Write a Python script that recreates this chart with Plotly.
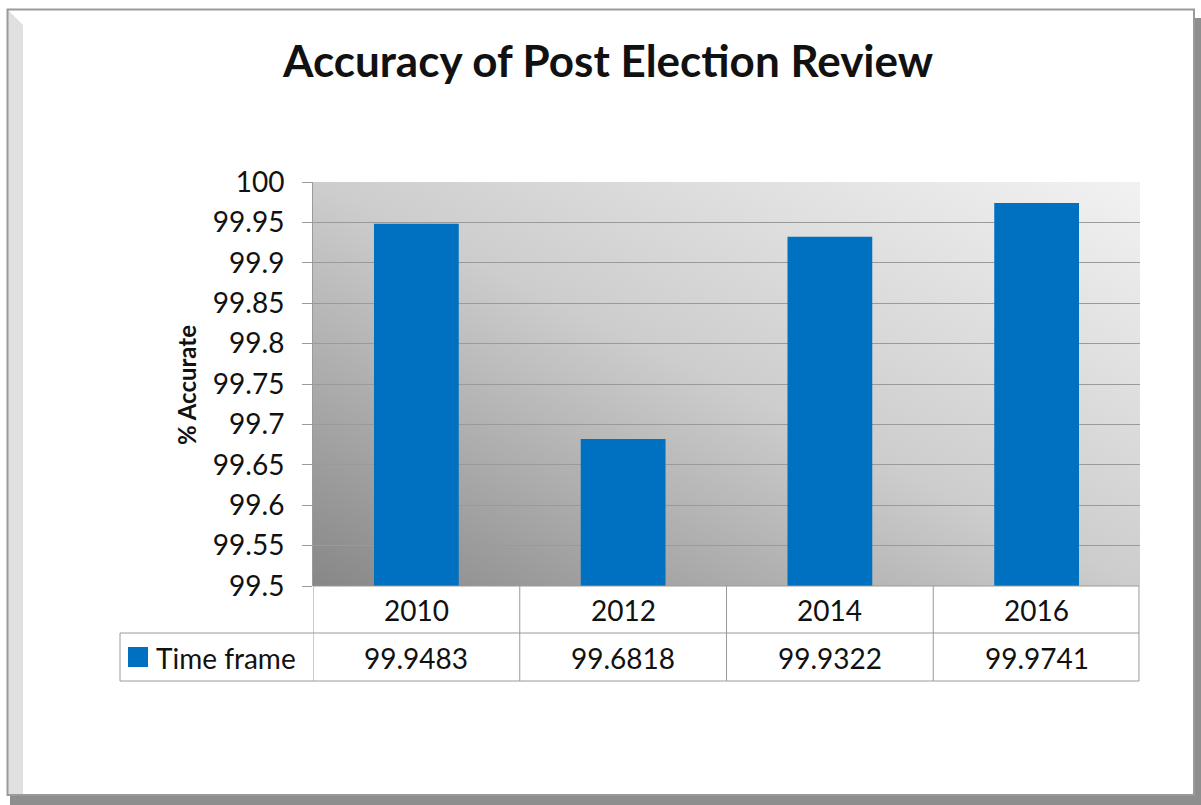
import base64
import plotly.graph_objects as go

# ---- data ----
years = ["2010", "2012", "2014", "2016"]
accuracy = [99.9483, 99.6818, 99.9322, 99.9741]
value_labels = ["99.9483", "99.6818", "99.9322", "99.9741"]
series_name = "Time frame"
y_ticks = [99.5, 99.55, 99.6, 99.65, 99.7, 99.75, 99.8, 99.85, 99.9, 99.95, 100]
y_tick_labels = ["99.5", "99.55", "99.6", "99.65", "99.7", "99.75", "99.8", "99.85", "99.9", "99.95", "100"]

# ---- layout geometry (pixels) ----
FW, FH = 1201, 805
L, R, T, B = 313, 1140, 182, 586
W, H = R - L, B - T


def px(x):
    return (x - L) / W


def py(y):
    return (B - y) / H


FONT = "Lato"
BLUE = "#0070C0"
LINE = "#9a9a9a"
TXT = 28

fig = go.Figure()
fig.add_trace(go.Bar(x=years, y=accuracy, marker=dict(color=BLUE, line=dict(width=0)),
                     name=series_name, showlegend=False, hoverinfo="x+y"))

# gradient background for plot area (svg image)
svg = ('<svg xmlns="http://www.w3.org/2000/svg" width="%d" height="%d" viewBox="0 0 %d %d" preserveAspectRatio="none">'
       '<defs><linearGradient id="g" x1="0" y1="1" x2="1" y2="0">'
       '<stop offset="0" stop-color="#878787"/>'
       '<stop offset="0.5" stop-color="#cdcdcd"/>'
       '<stop offset="1" stop-color="#f2f2f2"/>'
       '</linearGradient></defs>'
       '<rect x="0" y="0" width="%d" height="%d" fill="url(#g)"/></svg>') % (W, H, W, H, W, H)
src = "data:image/svg+xml;base64," + base64.b64encode(svg.encode()).decode()

shapes = []
# outer frame with bevel
shapes.append(dict(type="rect", xref="paper", yref="paper", x0=px(10), x1=px(1201), y0=py(795), y1=py(805),
                   fillcolor="#8e8e8e", line=dict(width=0), layer="below"))
shapes.append(dict(type="rect", xref="paper", yref="paper", x0=px(1194), x1=px(1201), y0=py(805), y1=py(18),
                   fillcolor="#8e8e8e", line=dict(width=0), layer="below"))
shapes.append(dict(type="path", xref="paper", yref="paper",
                   path="M %f %f L %f %f L %f %f L %f %f Z" % (px(8), py(10), px(23), py(25), px(23), py(795), px(8), py(795)),
                   fillcolor="#e0e0e0", line=dict(width=0), layer="below"))
shapes.append(dict(type="rect", xref="paper", yref="paper", x0=px(7.5), x1=px(1194), y0=py(795), y1=py(9.5),
                   fillcolor="rgba(0,0,0,0)", line=dict(color="#9a9a9a", width=2), layer="below"))

# data table lines
n = len(years)
row1_top, row2_top, row2_bot = 586, 633, 681
shapes.append(dict(type="line", xref="paper", yref="paper", x0=px(120), x1=1 - 1 / W, y0=py(row2_top), y1=py(row2_top),
                   line=dict(color=LINE, width=1)))
shapes.append(dict(type="line", xref="paper", yref="paper", x0=px(120), x1=1 - 1 / W, y0=py(row2_bot), y1=py(row2_bot),
                   line=dict(color=LINE, width=1)))
shapes.append(dict(type="line", xref="paper", yref="paper", x0=0, x1=1 - 1 / W, y0=0, y1=0,
                   line=dict(color=LINE, width=1)))
shapes.append(dict(type="line", xref="paper", yref="paper", x0=px(120), x1=px(120), y0=py(row2_top), y1=py(row2_bot),
                   line=dict(color=LINE, width=1)))
for i in range(n + 1):
    xv = i - 0.5 - (0.005 if i == n else 0)
    shapes.append(dict(type="line", xref="x", yref="paper", x0=xv, x1=xv,
                       y0=0, y1=py(row2_bot), line=dict(color=LINE, width=1)))
# legend key
shapes.append(dict(type="rect", xref="paper", yref="paper", x0=px(128), x1=px(148), y0=py(667), y1=py(647),
                   fillcolor=BLUE, line=dict(width=0)))

annotations = []
for i, (yr, v) in enumerate(zip(years, value_labels)):
    annotations.append(dict(x=i, xref="x", y=py(610), yref="paper", text=yr, showarrow=False,
                            font=dict(family=FONT, size=TXT, color="#111"), xanchor="center", yanchor="middle"))
    annotations.append(dict(x=i, xref="x", y=py(658), yref="paper", text=v, showarrow=False,
                            font=dict(family=FONT, size=TXT, color="#111"), xanchor="center", yanchor="middle"))
annotations.append(dict(x=px(154), xref="paper", y=py(658), yref="paper", text=series_name, showarrow=False,
                        font=dict(family=FONT, size=TXT, color="#111"), xanchor="left", yanchor="middle"))
annotations.append(dict(x=px(186), xref="paper", y=py(385), yref="paper", text="<b>% Accurate</b>", showarrow=False,
                        textangle=-90, font=dict(family=FONT, size=24, color="#111"), xanchor="center", yanchor="middle"))

fig.update_layout(
    width=FW, height=FH,
    margin=dict(l=L, r=FW - R, t=T, b=FH - B, autoexpand=False),
    paper_bgcolor="white", plot_bgcolor="rgba(0,0,0,0)",
    title=dict(text="<b>Accuracy of Post Election Review</b>", x=608 / FW, xanchor="center",
               y=1 - 62 / FH, yanchor="middle", yref="container",
               font=dict(family=FONT, size=44, color="#111")),
    bargap=0.59,
    showlegend=False,
    xaxis=dict(type="category", range=[-0.5, n - 0.5], showgrid=False, showticklabels=False, ticks="",
               showline=False, zeroline=False, fixedrange=True),
    yaxis=dict(range=[99.5, 100], tickvals=y_ticks, ticktext=y_tick_labels, showgrid=True, gridcolor=LINE,
               gridwidth=1, ticks="outside", ticklen=10, tickcolor=LINE, showline=True, linecolor=LINE,
               linewidth=1, zeroline=False, ticklabelstandoff=12,
               tickfont=dict(family=FONT, size=TXT, color="#111"), fixedrange=True),
    images=[dict(source=src, xref="paper", yref="paper", x=0, y=1, sizex=1, sizey=1, sizing="stretch",
                 xanchor="left", yanchor="top", layer="below")],
    shapes=shapes,
    annotations=annotations,
)

fig.write_html("out.html", config={"displayModeBar": False},
               post_script="document.body.style.margin='0px';document.body.style.overflow='hidden';")
